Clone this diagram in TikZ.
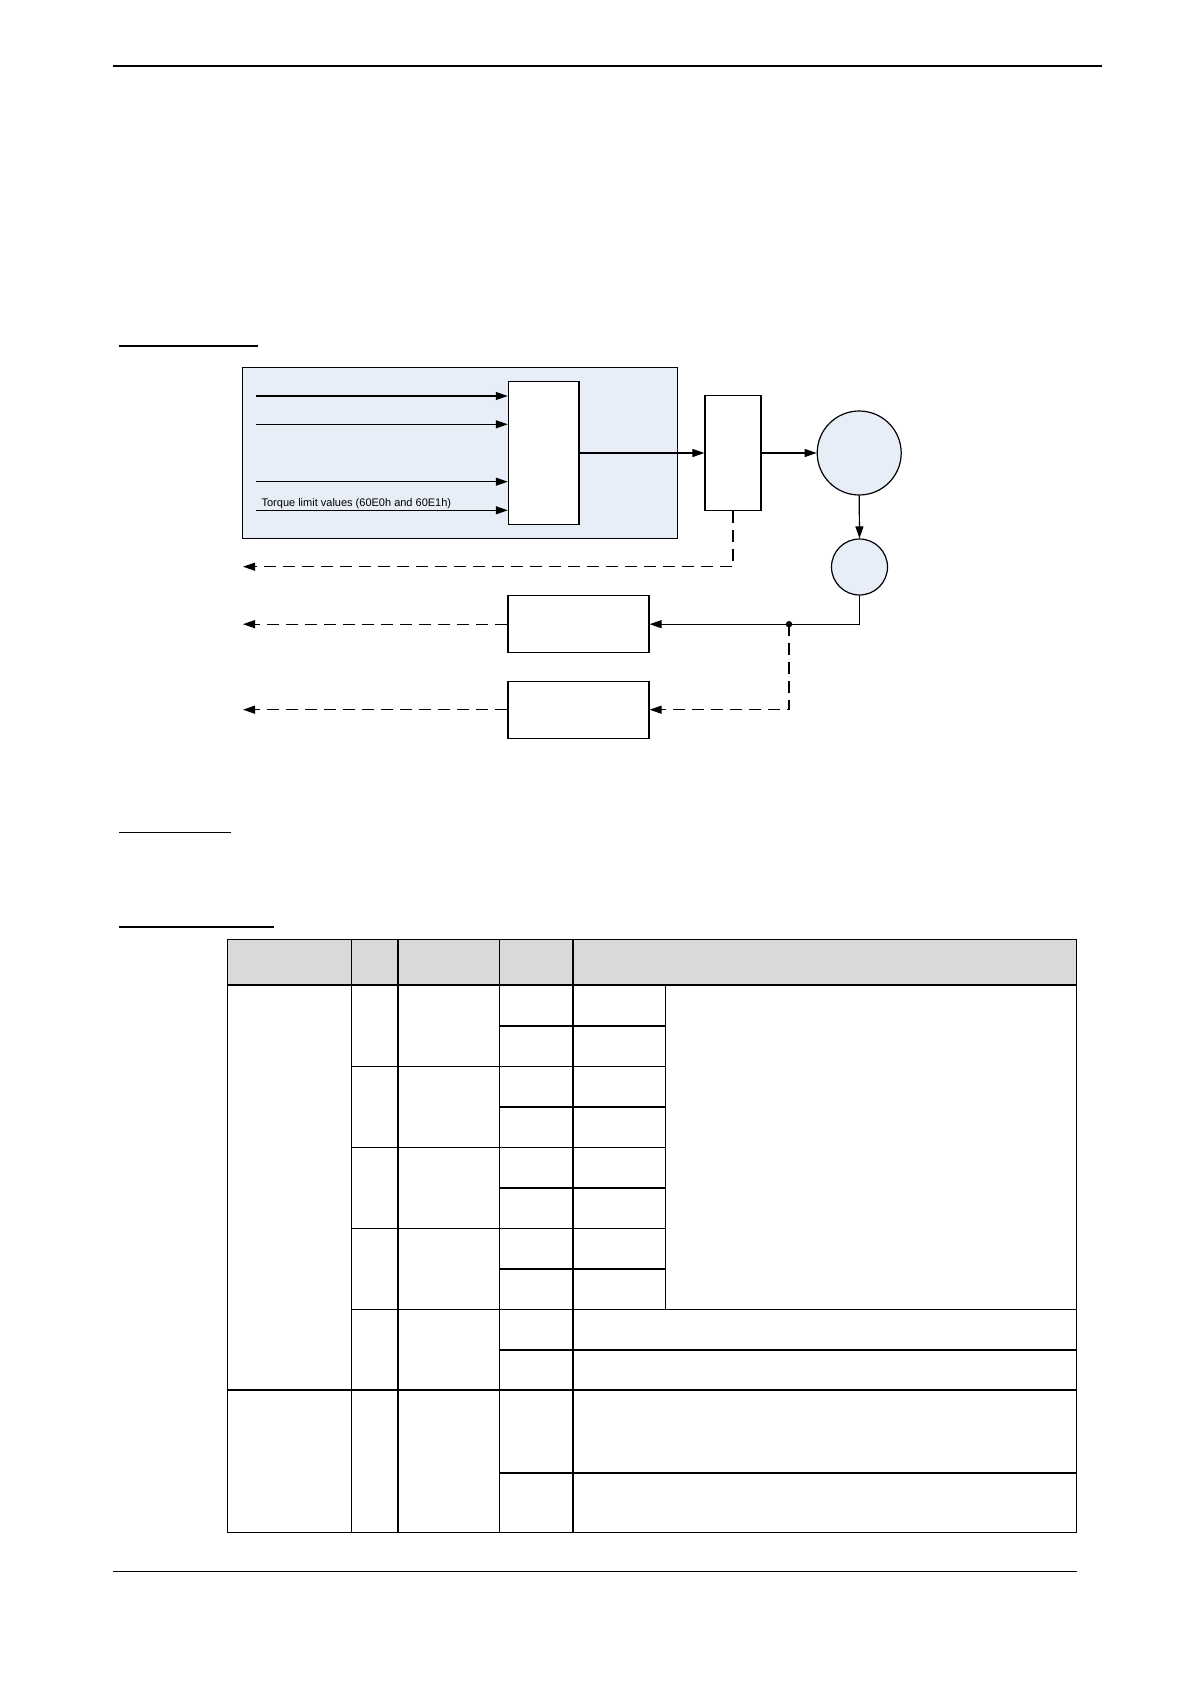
\documentclass[tikz,border=0pt]{standalone}
\usepackage{fontspec}
\newfontfamily\labelfont{Liberation Sans}
\usetikzlibrary{arrows.meta}
\definecolor{panelblue}{RGB}{232,238,247}
\definecolor{headgray}{RGB}{217,217,217}

\begin{document}
\begin{tikzpicture}[x=0.5pt,y=-0.5pt,>={Triangle[length=6pt,width=4pt]},
  line width=0.6pt,
  blk/.style={draw, fill=white, inner sep=0pt},
  disc/.style={draw, circle, fill=panelblue, inner sep=0pt},
  fb/.style={->, dash pattern=on 6pt off 3.5pt},
  rulebold/.style={line width=1pt}]
\useasboundingbox (0,0) rectangle (1191,1684);

% page rules
\draw[line width=0.8pt] (112.8,66) -- (1101.8,66);
\draw (119,346) -- (258,346);
\draw (119,832.3) -- (231,832.3);
\draw (119,927) -- (274,927);
\draw (113,1571.3) -- (1076.8,1571.3);

% block diagram
\node[draw, fill=panelblue, minimum width=217.5pt, minimum height=85.5pt] (panel) at (460.2,452.8) {};
\node[blk, minimum width=35.35pt, minimum height=71.3pt] (select) at (543.7,453) {};
\node[blk, minimum width=28pt, minimum height=57.15pt] (limit) at (733,453) {};
\node[disc, minimum size=42pt] (motor) at (859.2,453) {};
\node[disc, minimum size=28pt] (enc) at (859.5,567) {};
\node[blk, minimum width=70.5pt, minimum height=28.5pt] (calcA) at (578.5,624.2) {};
\node[blk, minimum width=70.5pt, minimum height=28.5pt] (calcB) at (578.5,709.7) {};

\coordinate (in1) at (256,396);
\coordinate (in2) at (256,424.3);
\coordinate (in3) at (256,481.7);
\coordinate (in4) at (256,510.3);
\foreach \n in {in1,in2,in3,in4}
  \draw[->] (\n) -- (\n -| select.west);
\node[font=\labelfont\fontsize{5.5}{6}\selectfont, anchor=base west, inner sep=0pt]
  (tqlabel) at (261,506.5) {Torque limit values (60E0h and 60E1h)};

\draw[->] (select.east) -- (limit.west);
\draw[->] (limit.east) -- (motor.west);
\draw[->] (motor.south) -- (enc.north);
\draw[->] (enc.south) |- (calcA.east);
\coordinate (tap) at (789,624.2);
\fill (tap) circle (1.6pt);
\draw[fb] (tap) |- (calcB.east);

\coordinate (out1) at (243,566.7);
\coordinate (out2) at (243,624.2);
\coordinate (out3) at (243,709.7);
\draw[fb] (limit.south) |- (out1);
\draw[fb] (calcA.west) -- (out2);
\draw[fb] (calcB.west) -- (out3);

% table
\fill[headgray] (227.1,939.3) rectangle (1076.8,985);
\foreach \y in {939.3,985,1390,1532.3}
  \draw (227.1,\y) -- (1076.8,\y);
\foreach \y in {1066.3,1147.3,1228.3}
  \draw (351.6,\y) -- (665.4,\y);
\draw (351.6,1309.3) -- (1076.8,1309.3);
\foreach \y in {1026,1106.7,1187.7,1269}
  \draw[rulebold] (499.8,\y) -- (665.4,\y);
\draw[rulebold] (499.8,1350) -- (1076.8,1350);
\draw[rulebold] (499.8,1473) -- (1076.8,1473);
\foreach \x in {227.1,351.6,499.8,1076.8}
  \draw (\x,939.3) -- (\x,1532.3);
\foreach \x in {398.3,572.7}
  \draw[rulebold] (\x,939.3) -- (\x,1532.3);
\draw (665.4,985) -- (665.4,1309.3);
\end{tikzpicture}
\end{document}
